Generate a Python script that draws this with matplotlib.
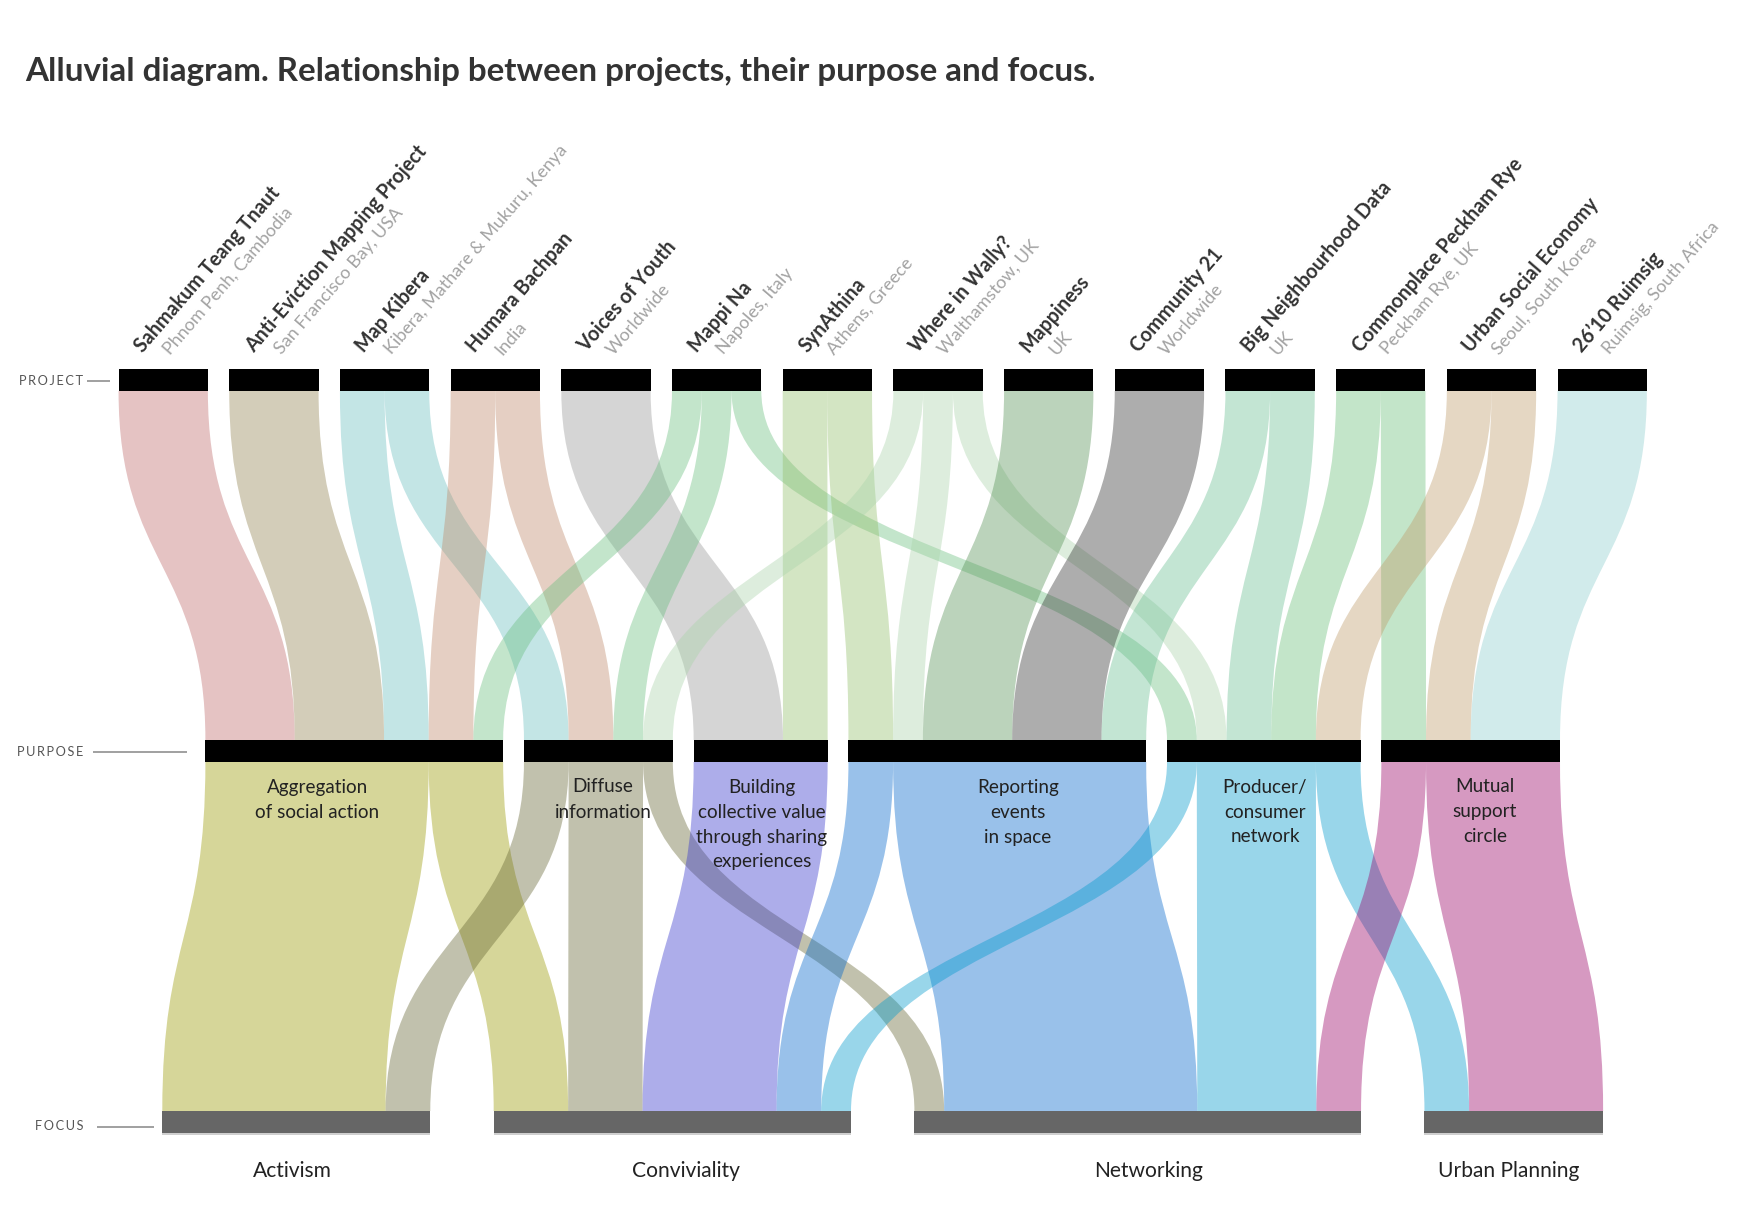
import matplotlib
matplotlib.use("Agg")
import matplotlib.pyplot as plt
from matplotlib.path import Path
from matplotlib.patches import PathPatch, Rectangle

# ---------------- data ----------------
projects = ["Sahmakum Teang Tnaut", "Anti-Eviction Mapping Project", "Map Kibera",
            "Humara Bachpan", "Voices of Youth", "Mappi Na", "SynAthina",
            "Where in Wally?", "Mappiness", "Community 21", "Big Neighbourhood Data",
            "Commonplace Peckham Rye", "Urban Social Economy", "26\u201910 Ruimsig"]
locations = ["Phnom Penh, Cambodia", "San Francisco Bay, USA",
             "Kibera, Mathare & Mukuru, Kenya", "India", "Worldwide", "Napoles, Italy",
             "Athens, Greece", "Walthamstow, UK", "UK", "Worldwide", "UK",
             "Peckham Rye, UK", "Seoul, South Korea", "Ruimsig, South Africa"]
purposes = ["Aggregation\nof social action", "Diffuse\ninformation",
            "Building\ncollective value\nthrough sharing\nexperiences",
            "Reporting\nevents\nin space", "Producer/\nconsumer\nnetwork",
            "Mutual\nsupport\ncircle"]
focuses = ["Activism", "Conviviality", "Networking", "Urban Planning"]

# project -> purpose links (values in sixths of a project)
link1_src = [0, 1, 2, 2, 3, 3, 4, 5, 5, 5, 6, 6, 7, 7, 7, 8, 9, 10, 10, 11, 11, 12, 12, 13]
link1_dst = [0, 0, 0, 1, 0, 1, 2, 0, 1, 4, 2, 3, 1, 3, 4, 3, 3, 3, 4, 4, 5, 4, 5, 5]
link1_val = [6, 6, 3, 3, 3, 3, 6, 2, 2, 2, 3, 3, 2, 2, 2, 6, 6, 3, 3, 3, 3, 3, 3, 6]

# purpose -> focus links
link2_src = [0, 0, 1, 1, 1, 2, 3, 3, 4, 4, 4, 5, 5]
link2_dst = [0, 1, 0, 1, 2, 1, 1, 2, 1, 2, 3, 2, 3]
link2_val = [15, 5, 3, 5, 2, 9, 3, 17, 2, 8, 3, 3, 9]

project_colors = ["#be696b", "#918250", "#69bec0", "#be8969", "#989898", "#69be7f",
                  "#93be69", "#aad4aa", "#559155", "#323232", "#69be93", "#69be78",
                  "#be9b69", "#8ccdcd"]
purpose_colors = ["#999900", "#666633", "#3333cc", "#0066cc", "#0099cc", "#990066"]
LINK_ALPHA = 0.4

# ---------------- layout (pixels) ----------------
W, H = 1758, 1227
K = 89.33 / 6.0           # px per value unit
CENTER = 882.7
GAPS = [21.36, 20.8, 63.4]
ROW_Y = [369.0, 740.0, 1111.0]
BAR_H = 22.0
# label x-centres of the purpose and focus texts (px)
purpose_label_x = [317.5, 603.0, 762.0, 1018.0, 1265.0, 1485.0]
focus_label_x = [292.0, 686.0, 1149.0, 1509.0]

fig = plt.figure(figsize=(W / 100, H / 100), dpi=100)
ax = fig.add_axes([0, 0, 1, 1])
ax.set_xlim(0, W)
ax.set_ylim(H, 0)
ax.axis("off")

FONT = ["Lato", "DejaVu Sans"]

n_p, n_u, n_f = len(projects), len(purposes), len(focuses)
proj_tot = [0] * n_p
for s, v in zip(link1_src, link1_val):
    proj_tot[s] += v
purp_tot = [0] * n_u
for d, v in zip(link1_dst, link1_val):
    purp_tot[d] += v
foc_tot = [0] * n_f
for d, v in zip(link2_dst, link2_val):
    foc_tot[d] += v


def layout(totals, gap):
    widths = [t * K for t in totals]
    span = sum(widths) + gap * (len(totals) - 1)
    x = CENTER - span / 2
    lefts = []
    for w in widths:
        lefts.append(x)
        x += w + gap
    return lefts, widths


pl, pw = layout(proj_tot, GAPS[0])
ul, uw = layout(purp_tot, GAPS[1])
fl, fw = layout(foc_tot, GAPS[2])


def band(xa0, xa1, xb0, xb1, y0, y1, color):
    ym = (y0 + y1) / 2
    verts = [(xa0, y0), (xa0, ym), (xb0, ym), (xb0, y1), (xb1, y1),
             (xb1, ym), (xa1, ym), (xa1, y0), (xa0, y0)]
    codes = [Path.MOVETO, Path.CURVE4, Path.CURVE4, Path.CURVE4, Path.LINETO,
             Path.CURVE4, Path.CURVE4, Path.CURVE4, Path.CLOSEPOLY]
    ax.add_patch(PathPatch(Path(verts, codes), facecolor=color, alpha=LINK_ALPHA,
                           edgecolor="none", lw=0))


def draw_links(src, dst, val, sl, dl, n_s, n_d, y0, y1, colors):
    idx = list(range(len(val)))
    s_off = {}
    cur = [0.0] * n_s
    for i in sorted(idx, key=lambda i: (src[i], dst[i])):
        s_off[i] = sl[src[i]] + cur[src[i]]
        cur[src[i]] += val[i] * K
    d_off = {}
    cur = [0.0] * n_d
    for i in sorted(idx, key=lambda i: (dst[i], src[i])):
        d_off[i] = dl[dst[i]] + cur[dst[i]]
        cur[dst[i]] += val[i] * K
    for i in idx:
        w = val[i] * K
        band(s_off[i], s_off[i] + w, d_off[i], d_off[i] + w, y0, y1, colors[src[i]])


draw_links(link1_src, link1_dst, link1_val, pl, ul, n_p, n_u,
           ROW_Y[0] + BAR_H, ROW_Y[1], project_colors)
draw_links(link2_src, link2_dst, link2_val, ul, fl, n_u, n_f,
           ROW_Y[1] + BAR_H, ROW_Y[2], purpose_colors)

# bars
for x, w in zip(pl, pw):
    ax.add_patch(Rectangle((x, ROW_Y[0]), w, BAR_H, facecolor="black", lw=0))
for x, w in zip(ul, uw):
    ax.add_patch(Rectangle((x, ROW_Y[1]), w, BAR_H, facecolor="black", lw=0))
for x, w in zip(fl, fw):
    ax.add_patch(Rectangle((x, ROW_Y[2]), w, BAR_H, facecolor="#666666", lw=0))
    ax.add_patch(Rectangle((x, ROW_Y[2] + BAR_H), w, 1.5, facecolor="#cfcfcf", lw=0))

# ---------------- font fitting ----------------
fig.canvas.draw()
rend = fig.canvas.get_renderer()


def fit(text, target, weight="normal", base=20.0):
    t = fig.text(0, 0, text, fontsize=base, family=FONT, weight=weight)
    w = t.get_window_extent(renderer=rend).width
    t.remove()
    return base * target / w


TITLE = "Alluvial diagram. Relationship between projects, their purpose and focus."
fs_title = fit(TITLE, 1070, "bold")
fs_name = fit("Anti-Eviction Mapping Project", 266, "bold")
fs_loc = fit("Kibera, Mathare & Mukuru, Kenya", 271)
fs_purp = fit("Aggregation", 101)
fs_foc = fit("Urban Planning", 142)

# title
ax.text(25, 80.7, TITLE, fontsize=fs_title, family=FONT, weight="bold",
        color="#333333", ha="left", va="baseline")

# row labels
row_lab = [("PROJECT", 381.3, 87, 110), ("PURPOSE", 752.3, 93, 187.5),
           ("FOCUS", 1126.5, 97, 153.6)]
for lab, y, lx0, lx1 in row_lab:
    ax.text(83.5, y, "\u2009".join(lab), fontsize=9.2, family=FONT, color="#555555",
            ha="right", va="center")
    ax.plot([lx0, lx1], [y, y], color="#999999", lw=1.3, solid_capstyle="butt")

# project labels
ANG = 49.2
for i in range(n_p):
    ax.text(pl[i] + 24.5, 353.0, projects[i], rotation=ANG, rotation_mode="anchor",
            ha="left", va="baseline", fontsize=fs_name, family=FONT, weight="bold",
            color="#333333")
    ax.text(pl[i] + 52.0, 355.5, locations[i], rotation=ANG, rotation_mode="anchor",
            ha="left", va="baseline", fontsize=fs_loc, family=FONT, color="#a3a3a3")

# purpose labels
for u in range(n_u):
    for j, line in enumerate(purposes[u].split("\n")):
        ax.text(purpose_label_x[u], 792.5 + 25.0 * j, line, fontsize=fs_purp,
                family=FONT, color="#222222", ha="center", va="baseline")

# focus labels
for f in range(n_f):
    ax.text(focus_label_x[f], 1177.3, focuses[f], fontsize=fs_foc, family=FONT,
            color="#222222", ha="center", va="baseline")

fig.savefig("out.png", dpi=100, facecolor="white")
